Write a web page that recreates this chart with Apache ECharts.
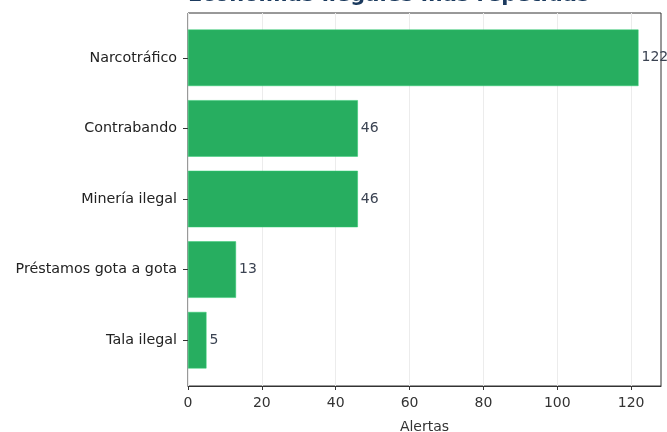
<!DOCTYPE html>
<html><head><meta charset="utf-8">
<script src="https://cdn.jsdelivr.net/npm/echarts@6/dist/echarts.min.js"></script>
<style>html,body{margin:0;padding:0;background:#fff}#c{width:667px;height:432px}</style>
</head><body><div id="c"></div>
<script>
const categories = ["Narcotráfico", "Contrabando", "Minería ilegal", "Préstamos gota a gota", "Tala ilegal"];
const alertas = [122, 46, 46, 13, 5];
const xTicks = [0, 20, 40, 60, 80, 100, 120];
const titleText = "Economías ilegales más repetidas";
const xName = "Alertas";

const F = "DejaVu Sans";
const L = 188, W = 473, TOP = 13, H = 373;
const innerTop = 22.5, innerH = 353;
const xMax = 128.1;

const chart = echarts.init(document.getElementById('c'), null, {renderer: 'canvas'});
chart.setOption({
  animation: false,
  backgroundColor: '#fff',
  textStyle: {fontFamily: F},
  graphic: [{
    type: 'text', left: 188, top: -14.5, z: 10,
    style: {text: titleText, x: 0, y: 0, align: 'left', fontFamily: F, fontSize: 21, fontWeight: 'bold', fill: '#1b3a5e'}
  }],
  grid: [
    {left: L, top: TOP, width: W, height: H, show: true, borderColor: '#333', borderWidth: 1, backgroundColor: 'transparent', containLabel: false, outerBoundsMode: 'none'},
    {left: L, top: innerTop, width: W, height: innerH, show: false, containLabel: false, outerBoundsMode: 'none'}
  ],
  xAxis: [
    {gridIndex: 0, type: 'value', min: 0, max: xMax, interval: 20,
     axisLine: {show: true, lineStyle: {color: '#333', width: 1}},
     axisTick: {show: true, length: 4, customValues: xTicks, lineStyle: {color: '#333'}},
     axisLabel: {show: true, fontFamily: F, fontSize: 14, color: '#333', margin: 10, customValues: xTicks,
       formatter: v => String(v)},
     splitLine: {show: true, lineStyle: {color: '#ececec', width: 1}},
     name: xName, nameLocation: 'middle', nameGap: 34,
     nameTextStyle: {fontFamily: F, fontSize: 14, color: '#333'}},
    {gridIndex: 1, type: 'value', min: 0, max: xMax, show: false, splitLine: {show: false}}
  ],
  yAxis: [
    {gridIndex: 0, type: 'value', show: false, splitLine: {show: false}},
    {gridIndex: 1, type: 'category', data: categories, inverse: true,
     axisLine: {show: false},
     axisTick: {show: true, alignWithLabel: true, length: 5, lineStyle: {color: '#333'}},
     axisLabel: {fontFamily: F, fontSize: 14.3, color: '#222', margin: 11},
     splitLine: {show: false}}
  ],
  series: [{
    type: 'bar', xAxisIndex: 1, yAxisIndex: 1,
    data: alertas, barCategoryGap: '20%',
    itemStyle: {color: '#27ae60', borderColor: '#2ecc71', borderWidth: 0.5},
    label: {show: true, position: 'right', distance: 3, fontFamily: F, fontSize: 14, color: '#3b4352'}
  }]
});
</script></body></html>
